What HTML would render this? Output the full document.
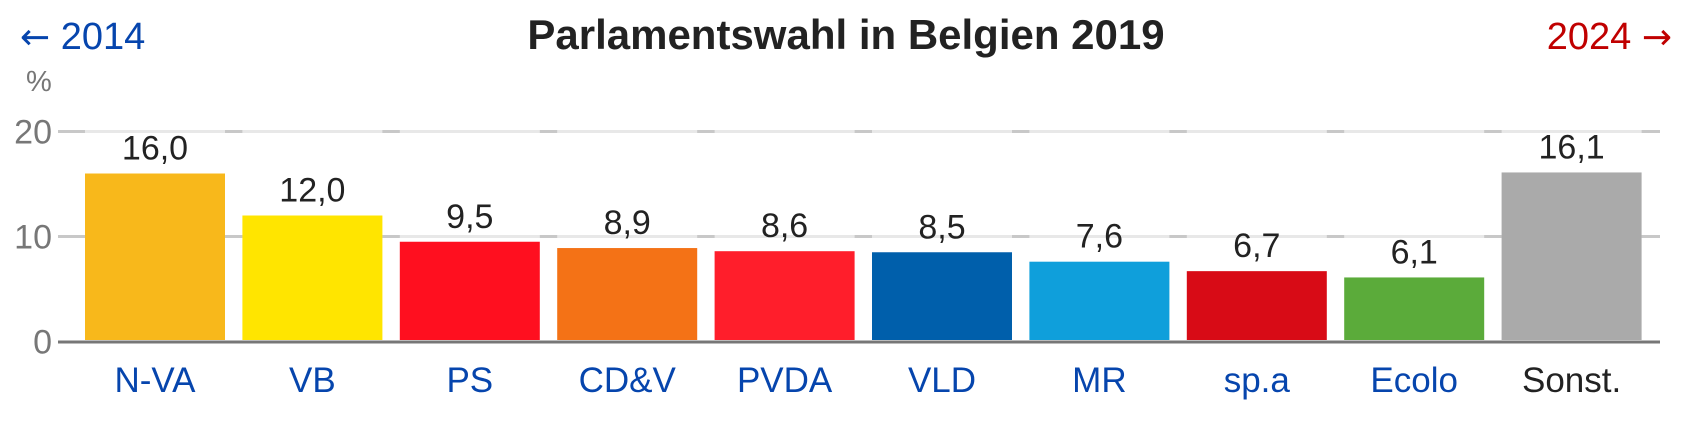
<!DOCTYPE html>
<html><head><meta charset="utf-8"><style>
body{margin:0;background:#fff;font-family:"Liberation Sans",Arial,sans-serif;}
svg text{font-family:"Liberation Sans",Arial,sans-serif;}
</style></head><body>
<svg id="chart" width="1692" height="439" xmlns="http://www.w3.org/2000/svg">
<text x="846" y="49" text-anchor="middle" font-size="42" font-weight="bold" fill="#222">Parlamentswahl in Belgien 2019</text>
<text x="20" y="49" font-size="38" fill="#0645ad"><tspan style="font-family:'DejaVu Sans',sans-serif" font-size="36">←</tspan> 2014</text>
<text x="1672" y="49" text-anchor="end" font-size="38" fill="#c00000">2024 <tspan style="font-family:'DejaVu Sans',sans-serif" font-size="36">→</tspan></text>
<text x="26" y="91" font-size="29" fill="#777">%</text>
<g id="grid"></g><g id="bars"></g>
</svg>
<script>
const categories=["N-VA","VB","PS","CD&V","PVDA","VLD","MR","sp.a","Ecolo","Sonst."];
const values=[16.0,12.0,9.5,8.9,8.6,8.5,7.6,6.7,6.1,16.1];
const colors=["#f8b81b","#ffe500","#ff0f1f","#f47216","#ff1e2b","#005fab","#0f9fdb","#d80b16","#5bab3a","#aaaaaa"];
const labelColors=["#0645ad","#0645ad","#0645ad","#0645ad","#0645ad","#0645ad","#0645ad","#0645ad","#0645ad","#222"];
const ticks=[0,10,20];
const NS="http://www.w3.org/2000/svg";
const y=v=>341.5-v*10.5;
const x=i=>85+i*157.4;
const bw=140;
const grid=document.getElementById('grid'),bars=document.getElementById('bars');
function mk(tag,attrs,parent){const e=document.createElementNS(NS,tag);for(const k in attrs)e.setAttribute(k,attrs[k]);parent.appendChild(e);return e;}
ticks.forEach(t=>{
  const lab=mk('text',{x:52,y:y(t)+12,'text-anchor':'end','font-size':34,fill:'#777'},grid);
  lab.textContent=t;
  
  
  if(t>0){
    const l=mk('line',{x1:58,x2:1660,y1:y(t),y2:y(t),stroke:'#c8c8c8','stroke-width':3},grid);
    
    
    categories.forEach((c,i)=>{
      const s=mk('line',{x1:x(i),x2:x(i)+bw,y1:y(t),y2:y(t),stroke:'#e8e8e8','stroke-width':3},grid);
      
      
    });
  }
});
categories.forEach((c,i)=>{
  const r=mk('rect',{x:x(i),y:y(values[i]),width:bw,height:340-y(values[i]),fill:colors[i]},bars);
  
  
  const v=mk('text',{x:x(i)+bw/2,y:y(values[i])-14,'text-anchor':'middle','font-size':34,fill:'#222'},bars);
  v.textContent=values[i].toFixed(1).replace('.',',');
  
  
  const t=mk('text',{x:x(i)+bw/2,y:392,'text-anchor':'middle','font-size':35,fill:labelColors[i]},bars);
  t.textContent=c;
  
  
});
const ax=mk('line',{x1:58,x2:1660,y1:342,y2:342,stroke:'#777','stroke-width':3},bars);


</script>
</body></html>
